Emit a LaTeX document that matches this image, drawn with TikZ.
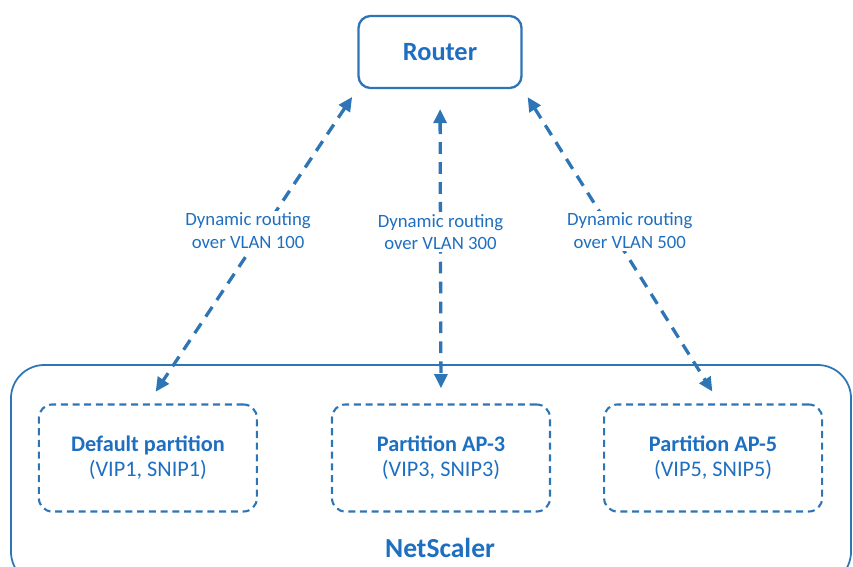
\documentclass[tikz,border=0pt]{standalone}
\usepackage{fontspec}
\setmainfont{Carlito}
\usepackage{tikz}
\usetikzlibrary{arrows.meta,positioning}

\definecolor{nsblue}{HTML}{2E75B6}
\definecolor{nstext}{HTML}{1F6FC0}

\begin{document}
\begin{tikzpicture}[x=0.03cm, y=-0.03cm, font=\fontsize{16}{19}\selectfont,
  rtrbox/.style={draw=nsblue, line width=2pt, rounded corners=0.36cm, minimum width=4.89cm, minimum height=2.16cm, text=nstext, font=\fontsize{22.5}{26}\selectfont\bfseries},
  partbox/.style={draw=nsblue, line width=1.8pt, dash pattern=on 6pt off 4pt, rounded corners=0.4cm, minimum width=6.54cm, minimum height=3.21cm, align=center, text=nstext, font=\fontsize{19}{21.5}\selectfont},
  link/.style={{Triangle[length=12pt,width=11pt]}-{Triangle[length=12pt,width=11pt]}, draw=nsblue, line width=2.8pt, dash pattern=on 10pt off 7pt},
  lbl/.style={fill=white, align=center, text=nstext, inner sep=2pt}]

\useasboundingbox (0,0) rectangle (853,566);

\node (ns) [draw=nsblue, line width=1.5pt, rounded corners=1cm, minimum width=25.2cm, minimum height=6.6cm] at (431,475) {};
\node (nslbl) [text=nstext, font=\fontsize{23.5}{26}\selectfont\bfseries] at (440,548) {NetScaler};

\node (rtr) [rtrbox] at (440,52) {Router};

\node (ap3) [partbox] at (441,458) {\textbf{Partition AP-3}\\(VIP3, SNIP3)};
\node (dflt) [partbox, left=2.19cm of ap3] {\textbf{Default partition}\\(VIP1, SNIP1)};
\node (ap5) [partbox, right=1.56cm of ap3] {\textbf{Partition AP-5}\\(VIP5, SNIP5)};

\draw[link, shorten <=8pt, shorten >=12pt] (rtr.south west) -- node[lbl, pos=.45, xshift=-0.45cm] {Dynamic routing\\over VLAN 100} (dflt.north);
\draw[link, shorten <=17pt, shorten >=13pt] (rtr.south) -- node[lbl, pos=.455] {Dynamic routing\\over VLAN 300} (ap3.north);
\draw[link, shorten <=8pt, shorten >=12pt] (rtr.south east) -- node[lbl, pos=.45, xshift=0.55cm] {Dynamic routing\\over VLAN 500} ([xshift=0.2cm]ap5.north);

\end{tikzpicture}
\end{document}
